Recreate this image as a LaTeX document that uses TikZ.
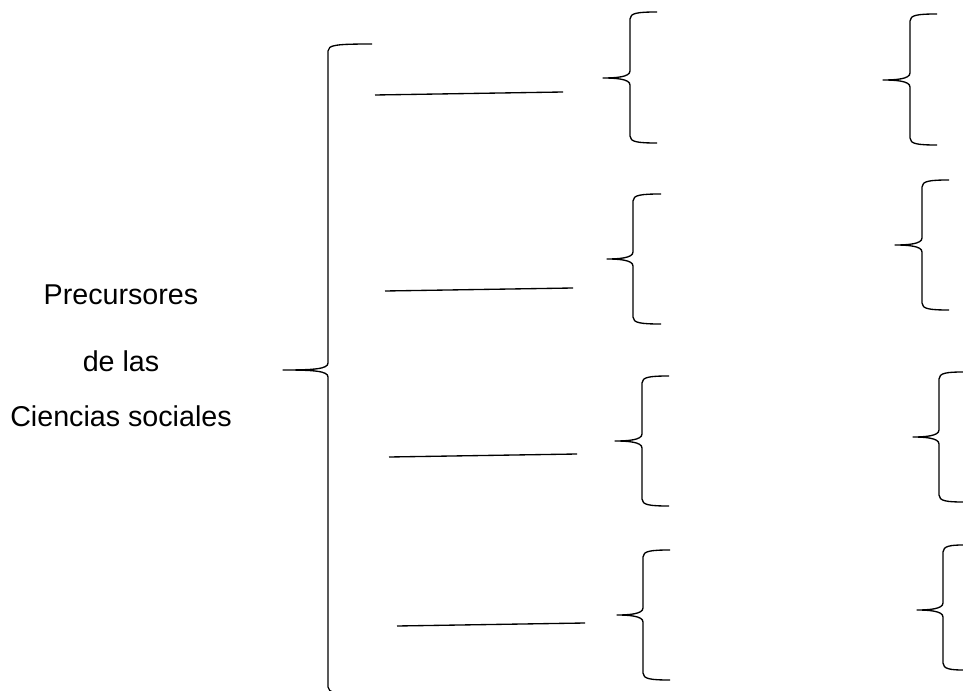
\documentclass[tikz,border=0pt]{standalone}
\usepackage{fontspec}
\setmainfont{Liberation Sans}
\usetikzlibrary{positioning}

% curly brace opening to the right: tip x, tip y, stem x, top y, bottom y, end x
\newcommand{\drawbrace}[6]{%
  \draw[bracestroke] (#6,#4) .. controls ({#3+8},#4) and (#3,{#4+1}) .. (#3,{#4+7})
    -- (#3,{#2-7}) .. controls (#3,{#2-1}) and ({#3-14},#2) .. (#1,#2)
    .. controls ({#3-14},#2) and (#3,{#2+1}) .. (#3,{#2+7})
    -- (#3,{#5-7}) .. controls (#3,{#5-1}) and ({#3+8},#5) .. (#6,#5);}

\begin{document}
\begin{tikzpicture}[
    x=0.75pt, y=-0.75pt,
    bracestroke/.style={line width=1pt, line join=round},
    blank/.style={line width=1pt},
    title/.style={anchor=base, inner sep=0pt, font=\fontsize{21.5}{26}\selectfont}
  ]
  \useasboundingbox (0,0) rectangle (963,691);

  % title
  \node[title] (t1) at (121,305) {Precursores};
  \node[title] (t2) at (121,371) {de las};
  \node[title] (t3) at (121,426) {Ciencias sociales};

  % main brace (bottom runs off the page)
  \drawbrace{283}{370}{328}{44}{694}{372}

  % blank lines
  \draw[blank] (375,95) -- (563,92);
  \draw[blank] (385,291) -- (573,288);
  \draw[blank] (389,457) -- (577,454);
  \draw[blank] (397,626) -- (585,623);

  % second column of braces
  \drawbrace{603}{78}{630}{12}{143}{657}
  \drawbrace{607}{259}{633}{194}{324}{661}
  \drawbrace{615}{441}{642}{376}{506}{669}
  \drawbrace{617}{615}{643}{550}{680}{670}

  % third column of braces
  \drawbrace{883}{80}{910}{14}{145}{937}
  \drawbrace{895}{245}{922}{180}{310}{949}
  \drawbrace{913}{437}{939}{372}{502}{963}
  \drawbrace{917}{610}{943}{545}{670}{963}
\end{tikzpicture}
\end{document}
